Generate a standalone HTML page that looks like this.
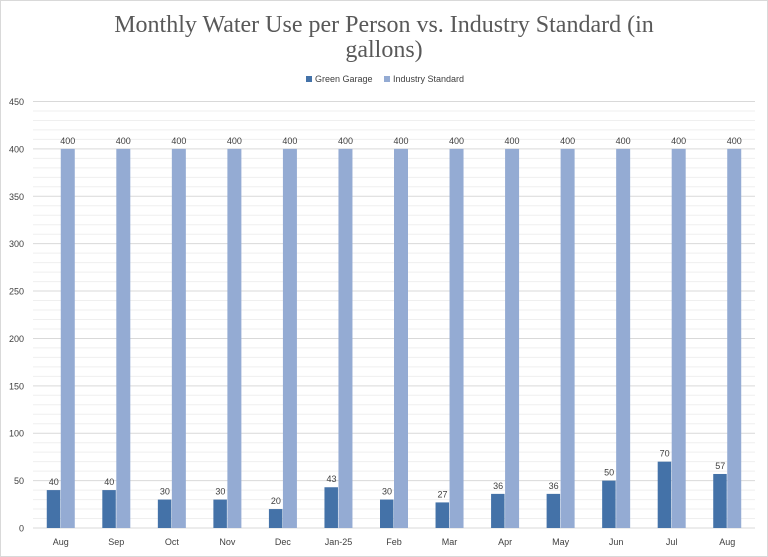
<!DOCTYPE html>
<html><head><meta charset="utf-8"><style>
html,body{margin:0;padding:0;background:#fff;}
svg{display:block;}
text{font-family:"Liberation Sans",sans-serif;fill:#404040;}
</style></head><body>
<svg width="768" height="557" xmlns="http://www.w3.org/2000/svg">
<rect x="0.5" y="0.5" width="767" height="556" fill="#fff" stroke="#d9d9d9"/>
<text x="384" y="32" text-anchor="middle" style="font-family:'Liberation Serif',serif;font-size:24px;fill:#595959">Monthly Water Use per Person vs. Industry Standard (in</text>
<text x="384" y="57" text-anchor="middle" style="font-family:'Liberation Serif',serif;font-size:24px;fill:#595959">gallons)</text>
<rect x="306" y="76" width="6" height="6" fill="#4472a8"/>
<text x="315" y="82" font-size="9">Green Garage</text>
<rect x="384" y="76" width="6" height="6" fill="#94abd3"/>
<text x="393" y="82" font-size="9">Industry Standard</text>
<g id="grid"></g>
<g id="bars"></g>
<script>
var ns="http://www.w3.org/2000/svg";
var g=document.getElementById('grid'),b=document.getElementById('bars');
function el(p,t,a,txt){var e=document.createElementNS(ns,t);for(var k in a)e.setAttribute(k,a[k]);if(txt!=null)e.textContent=txt;p.appendChild(e);return e;}
var y0=528,s=426.5/450,L=33,R=755;
for(var v=0;v<=450;v+=10){var y=y0-v*s;var maj=v%50==0;
el(g,'line',{x1:L,x2:R,y1:y,y2:y,stroke:maj?'#d9d9d9':'#efefef','stroke-width':1});
if(maj)el(g,'text',{x:24,y:y+3.5,'text-anchor':'end','font-size':'9'},v);}
var labs=['Aug','Sep','Oct','Nov','Dec','Jan-25','Feb','Mar','Apr','May','Jun','Jul','Aug'];
var gg=[40,40,30,30,20,43,30,27,36,36,50,70,57];
var step=(R-L)/13;
for(var i=0;i<13;i++){var c=L+step*(i+0.5);
var h=gg[i]*s;el(b,'rect',{x:c-14,y:y0-h,width:13.5,height:h,fill:'#4472a8'});
el(b,'text',{x:c-7,y:y0-h-5,'text-anchor':'middle','font-size':'9'},gg[i]);
var h2=400*s;el(b,'rect',{x:c,y:y0-h2,width:14,height:h2,fill:'#94abd3'});
el(b,'text',{x:c+7,y:y0-h2-5,'text-anchor':'middle','font-size':'9'},400);
el(b,'text',{x:c,y:545,'text-anchor':'middle','font-size':'9'},labs[i]);}
</script>
</svg>
</body></html>
